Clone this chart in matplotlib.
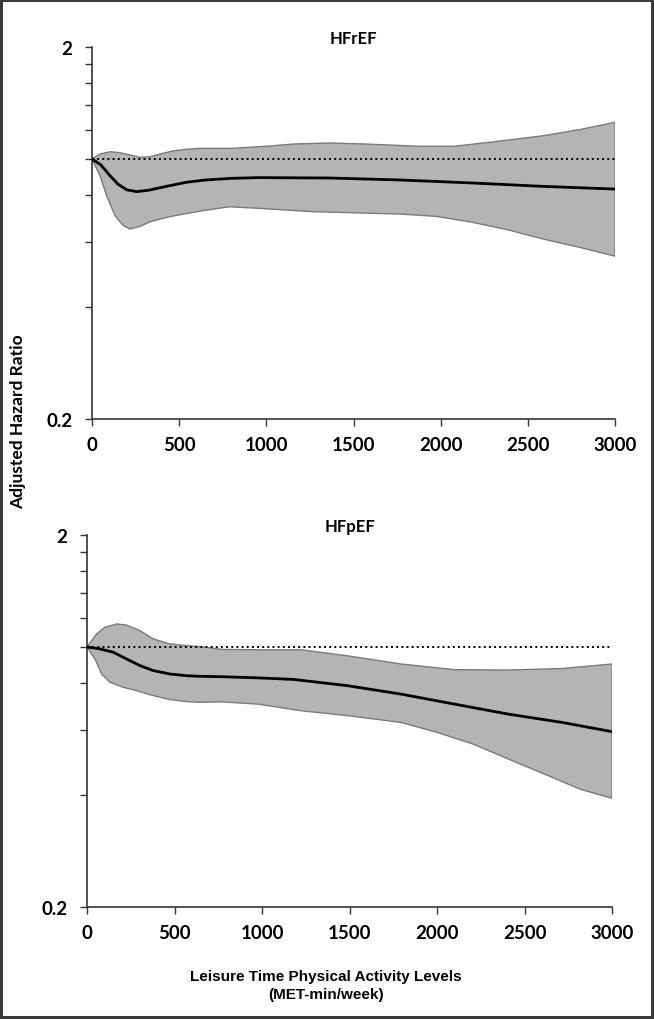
import numpy as np
import matplotlib
matplotlib.use('Agg')
import matplotlib.pyplot as plt
from matplotlib.ticker import FixedLocator, FixedFormatter, NullLocator

############################### data #############################
# HFrEF (top panel)
hfref_line_x = [0, 50, 103, 150, 200, 257, 330, 420, 543, 650, 800, 952,
                1362, 1771, 2181, 2590, 3000]
hfref_line_y = [1.0, 0.965, 0.902, 0.855, 0.826, 0.817, 0.825, 0.843, 0.866,
                0.878, 0.887, 0.891, 0.889, 0.878, 0.862, 0.844, 0.830]
hfref_up_x = [0, 46, 103, 161, 218, 276, 333, 391, 467, 544, 621, 809, 1000,
              1157, 1362, 1567, 1874, 2079, 2283, 2590, 2800, 3000]
hfref_up_y = [1.0, 1.031, 1.046, 1.040, 1.025, 1.010, 1.014, 1.031, 1.052,
              1.062, 1.068, 1.068, 1.082, 1.097, 1.104, 1.097, 1.082, 1.082,
              1.109, 1.155, 1.200, 1.255]
hfref_lo_x = [0, 46, 84, 132, 180, 218, 276, 333, 429, 544, 650, 788, 952,
              1259, 1771, 1976, 2181, 2386, 2590, 2795, 3000]
hfref_lo_y = [1.0, 0.902, 0.797, 0.704, 0.662, 0.648, 0.659, 0.678, 0.697,
              0.714, 0.728, 0.744, 0.737, 0.722, 0.711, 0.701, 0.676, 0.645,
              0.609, 0.579, 0.548]

# HFpEF (bottom panel)
hfpef_line_x = [0, 74, 150, 227, 303, 379, 474, 570, 646, 772, 977, 1181,
                1488, 1794, 2101, 2407, 2714, 3000]
hfpef_line_y = [1.0, 0.988, 0.968, 0.928, 0.891, 0.864, 0.846, 0.837, 0.834,
                0.832, 0.826, 0.818, 0.787, 0.747, 0.702, 0.660, 0.627, 0.592]
hfpef_up_x = [0, 55, 103, 170, 227, 303, 379, 474, 570, 646, 772, 977, 1222,
              1488, 1794, 2101, 2407, 2714, 3000]
hfpef_up_y = [1.0, 1.084, 1.130, 1.153, 1.145, 1.106, 1.051, 1.019, 1.008,
              1.002, 0.985, 0.983, 0.983, 0.947, 0.900, 0.869, 0.867, 0.875,
              0.900]
hfpef_lo_x = [0, 46, 84, 131, 207, 284, 379, 474, 570, 646, 772, 977, 1222,
              1488, 1794, 1998, 2203, 2407, 2611, 2816, 3000]
hfpef_lo_y = [1.0, 0.928, 0.846, 0.804, 0.779, 0.763, 0.740, 0.722, 0.713,
              0.710, 0.712, 0.702, 0.674, 0.654, 0.627, 0.590, 0.549, 0.500,
              0.456, 0.415, 0.392]

titles = ['HFrEF', 'HFpEF']
xticks = [0, 500, 1000, 1500, 2000, 2500, 3000]
yticks = [0.2, 0.4, 0.6, 0.8, 1.0, 1.2, 1.4, 1.6, 1.8, 2.0]
ylabels = ['0.2', '', '', '', '', '', '', '', '', '2']
##################################################################

fig = plt.figure(figsize=(6.54, 10.2), dpi=100, edgecolor='#3a3a3a',
                 linewidth=3)

ax1 = fig.add_axes([92/654., 1-420/1020., (615-92)/654., (420-48)/1020.])
ax2 = fig.add_axes([87/654., 1-908/1020., (612-87)/654., (908-536)/1020.])

panels = [(ax1, hfref_line_x, hfref_line_y, hfref_up_x, hfref_up_y,
           hfref_lo_x, hfref_lo_y),
          (ax2, hfpef_line_x, hfpef_line_y, hfpef_up_x, hfpef_up_y,
           hfpef_lo_x, hfpef_lo_y)]

for (ax, lx, ly, ux, uy, dx, dy), title in zip(panels, titles):
    # confidence band as closed polygon
    px = np.r_[ux, dx[::-1]]
    py = np.r_[uy, dy[::-1]]
    ax.fill(px, py, facecolor='#b4b4b4', edgecolor='#7a7a7a', lw=1.0,
            joinstyle='round', zorder=1)
    ax.plot([0, 3000], [1, 1], linestyle=':', c='k', lw=1.4, zorder=2)
    ax.plot(lx, ly, linestyle='-', c='k', lw=2.0, solid_joinstyle='round',
            zorder=3)

    ax.set_yscale('log')
    ax.set_xlim([0, 3000])
    ax.set_ylim([0.2, 2.0])
    ax.yaxis.set_major_locator(FixedLocator(yticks))
    ax.yaxis.set_major_formatter(FixedFormatter(ylabels))
    ax.yaxis.set_minor_locator(NullLocator())
    ax.set_xticks(xticks)
    ax.set_xticklabels([str(t) for t in xticks])

    for s in ['top', 'right']:
        ax.spines[s].set_visible(False)
    for s in ['left', 'bottom']:
        ax.spines[s].set_color('#333333')
        ax.spines[s].set_linewidth(1.2)

    ax.tick_params(axis='y', length=5, width=1.0, color='#333333', pad=9)
    ax.tick_params(axis='x', length=5, width=1.0, color='#333333', pad=7)
    for lab in ax.get_xticklabels() + ax.get_yticklabels():
        lab.set_fontfamily('Lato')
        lab.set_fontweight('bold')
        lab.set_fontsize(13.5)

    ax.set_title(title, fontfamily='Lato', fontweight='bold', fontsize=12,
                 pad=3)

fig.text(0.028, 1-422/1020., 'Adjusted Hazard Ratio', rotation=90,
         ha='center', va='center', fontfamily='Lato', fontweight='bold',
         fontsize=12.5)
fig.text(326/654., 1-986/1020., 'Leisure Time Physical Activity Levels\n(MET-min/week)',
         ha='center', va='center', fontfamily='Liberation Sans',
         fontweight='bold', fontsize=11, linespacing=1.35)

fig.savefig('out.png', dpi=100)
plt.close(fig)
